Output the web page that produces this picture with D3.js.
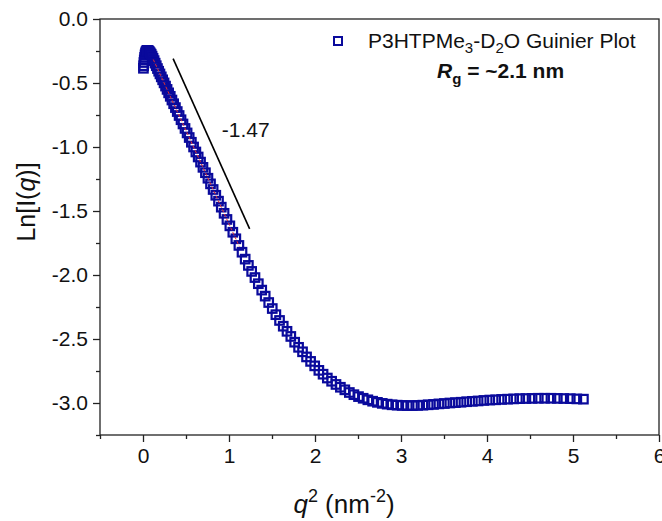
<!DOCTYPE html>
<html><head><meta charset="utf-8">
<script src="https://cdn.jsdelivr.net/npm/d3@7"></script>
<style>body{margin:0;background:#fff}svg{display:block}text{font-family:"Liberation Sans",Arial,sans-serif}</style>
</head><body><svg id="c" width="662" height="521"></svg>
<script>
const q2 = [
0.0049,0.0076,0.0108,0.0146,0.0190,0.0240,0.0296,0.0357,0.0424,0.0497,
0.0576,0.0660,0.0751,0.0847,0.0949,0.1056,0.1170,0.1289,0.1414,0.1544,
0.1681,0.1823,0.1971,0.2125,0.2285,0.2450,0.2621,0.2798,0.2981,0.3170,
0.3364,0.3564,0.3770,0.3982,0.4199,0.4422,0.4651,0.4886,0.5127,0.5373,
0.5625,0.5883,0.6147,0.6416,0.6691,0.6972,0.7259,0.7552,0.7850,0.8154,
0.8464,0.8780,0.9101,0.9428,0.9761,1.0100,1.0445,1.0795,1.1151,1.1513,
1.1881,1.2254,1.2634,1.3019,1.3410,1.3806,1.4209,1.4617,1.5031,1.5450,
1.5876,1.6307,1.6744,1.7187,1.7636,1.8090,1.8550,1.9016,1.9488,1.9966,
2.0449,2.0938,2.1433,2.1934,2.2440,2.2952,2.3470,2.3994,2.4524,2.5059,
2.5600,2.6147,2.6700,2.7258,2.7822,2.8392,2.8968,2.9550,3.0137,3.0730,
3.1329,3.1934,3.2544,3.3160,3.3782,3.4410,3.5044,3.5683,3.6328,3.6979,
3.7636,3.8298,3.8967,3.9641,4.0321,4.1006,4.1698,4.2395,4.3098,4.3806,
4.4521,4.5241,4.5967,4.6699,4.7437,4.8180,4.8929,4.9684,5.0445,5.1212];
const lnI = [
-0.385,-0.365,-0.340,-0.320,-0.300,-0.280,-0.265,-0.255,-0.248,-0.245,
-0.246,-0.250,-0.256,-0.265,-0.275,-0.290,-0.307,-0.325,-0.345,-0.365,
-0.387,-0.408,-0.429,-0.452,-0.475,-0.499,-0.524,-0.550,-0.577,-0.604,
-0.633,-0.662,-0.692,-0.723,-0.754,-0.787,-0.820,-0.855,-0.890,-0.926,
-0.963,-1.000,-1.039,-1.078,-1.118,-1.159,-1.201,-1.244,-1.288,-1.332,
-1.377,-1.423,-1.470,-1.518,-1.566,-1.616,-1.666,-1.717,-1.769,-1.822,
-1.876,-1.925,-1.972,-2.020,-2.068,-2.118,-2.165,-2.215,-2.262,-2.310,
-2.355,-2.400,-2.440,-2.480,-2.525,-2.565,-2.600,-2.640,-2.675,-2.710,
-2.745,-2.775,-2.805,-2.830,-2.855,-2.877,-2.897,-2.918,-2.935,-2.950,
-2.963,-2.975,-2.986,-2.995,-3.003,-3.009,-3.014,-3.017,-3.019,-3.020,
-3.020,-3.019,-3.017,-3.014,-3.011,-3.007,-3.004,-3.000,-2.997,-2.994,
-2.990,-2.987,-2.984,-2.980,-2.977,-2.975,-2.972,-2.970,-2.968,-2.966,
-2.965,-2.964,-2.963,-2.963,-2.963,-2.964,-2.965,-2.966,-2.968,-2.970];
const fitX = [0.12, 1.12];
const fitSlope = -1.46, fitIntercept = -0.1414;
const guideX = [0.35, 1.24];
const guideY = [-0.31, -1.64];
const slopeLabel = "-1.47";
const xTicks = [0,1,2,3,4,5,6];
const yTicks = [0.0,-0.5,-1.0,-1.5,-2.0,-2.5,-3.0];

const svg = d3.select("#c");
const L=100, R=659, T=19, B=435;
const x = d3.scaleLinear().domain([-0.5,6]).range([L,R]);
const y = d3.scaleLinear().domain([-3.25,0]).range([B,T]);
const axCol="#222";

const xMinor = d3.range(-0.5,6.01,0.5).filter(v=>Math.abs(v-Math.round(v))>0.01);
const yMinor = d3.range(-3.25,0.01,0.25).filter(v=>Math.abs(v*2-Math.round(v*2))>0.01);

const gx = svg.append("g").attr("transform",`translate(0,${B})`)
  .call(d3.axisBottom(x).tickValues(xTicks).tickSize(7).tickPadding(6).tickFormat(d3.format("d")));
const gxm = svg.append("g").attr("transform",`translate(0,${B})`)
  .call(d3.axisBottom(x).tickValues(xMinor).tickSize(4).tickFormat(""));
const gy = svg.append("g").attr("transform",`translate(${L},0)`)
  .call(d3.axisLeft(y).tickValues(yTicks).tickSize(7).tickPadding(5).tickFormat(d3.format(".1f")));
const gym = svg.append("g").attr("transform",`translate(${L},0)`)
  .call(d3.axisLeft(y).tickValues(yMinor).tickSize(4).tickFormat(""));
[gx,gxm,gy,gym].forEach(g=>{
  g.select(".domain").remove();
  g.selectAll("line").attr("stroke",axCol).attr("stroke-width",1.3);
  g.selectAll("text").attr("font-size",21).attr("fill","#111");
});
gy.selectAll("text").text(d=>d.toFixed(1).replace("-0.0","0.0"));
svg.append("rect").attr("x",L).attr("y",T).attr("width",R-L).attr("height",B-T)
  .attr("fill","none").attr("stroke",axCol).attr("stroke-width",1.3);

// data
svg.append("g").selectAll("rect").data(q2).join("rect")
  .attr("x",(d)=>x(d)-4.25).attr("y",(d,i)=>y(lnI[i])-4.25).attr("width",8.5).attr("height",8.5)
  .attr("fill","none").attr("stroke","#0a0a9c").attr("stroke-width",2.2);

// fit line
svg.append("line").attr("x1",x(fitX[0])).attr("y1",y(fitIntercept+fitSlope*fitX[0]))
  .attr("x2",x(fitX[1])).attr("y2",y(fitIntercept+fitSlope*fitX[1]))
  .attr("stroke","#e03030").attr("stroke-width",1).attr("stroke-dasharray","3,2");
// guide line
svg.append("line").attr("x1",x(guideX[0])).attr("y1",y(guideY[0]))
  .attr("x2",x(guideX[1])).attr("y2",y(guideY[1])).attr("stroke","#000").attr("stroke-width",1.6);
svg.append("text").attr("x",x(0.916)).attr("y",y(-0.92)).attr("font-size",21).attr("fill","#111").text(slopeLabel);

// legend
svg.append("rect").attr("x",334).attr("y",37).attr("width",8).attr("height",8)
  .attr("fill","none").attr("stroke","#0a0a9c").attr("stroke-width",2);
const lt = svg.append("text").attr("x",368).attr("y",48).attr("font-size",21).attr("fill","#111");
lt.append("tspan").text("P3HTPMe");
lt.append("tspan").attr("font-size",15).attr("dy",5).text("3");
lt.append("tspan").attr("dy",-5).text("-D");
lt.append("tspan").attr("font-size",15).attr("dy",5).text("2");
lt.append("tspan").attr("dy",-5).text("O Guinier Plot");

const rg = svg.append("text").attr("x",437).attr("y",78).attr("font-size",21).attr("font-weight","bold").attr("fill","#111");
rg.append("tspan").attr("font-style","italic").text("R");
rg.append("tspan").attr("font-size",15).attr("dy",6).text("g");
rg.append("tspan").attr("dy",-6).text(" = ~2.1 nm");

// axis titles
const xt = svg.append("text").attr("x",344).attr("y",513).attr("text-anchor","middle").attr("font-size",26).attr("fill","#111");
xt.append("tspan").attr("font-style","italic").text("q");
xt.append("tspan").attr("font-size",18).attr("dy",-11).text("2");
xt.append("tspan").attr("dy",11).text(" (nm");
xt.append("tspan").attr("font-size",18).attr("dy",-11).text("-2");
xt.append("tspan").attr("dy",11).text(")");

const yt = svg.append("text").attr("transform","translate(35,202) rotate(-90)").attr("text-anchor","middle").attr("font-size",25).attr("fill","#111");
yt.append("tspan").text("Ln[I(");
yt.append("tspan").attr("font-style","italic").text("q");
yt.append("tspan").text(")]");
</script></body></html>
